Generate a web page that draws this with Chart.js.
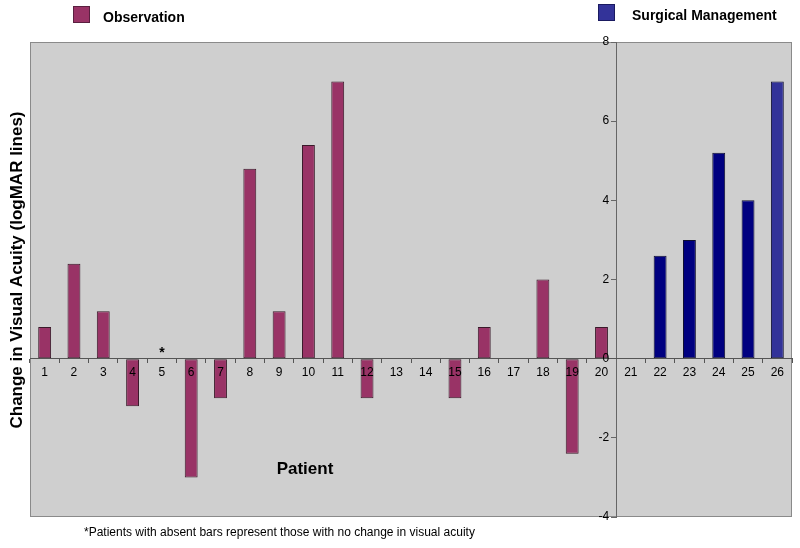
<!DOCTYPE html>
<html>
<head>
<meta charset="utf-8">
<script src="https://cdn.jsdelivr.net/npm/chart.js@4.4.0/dist/chart.umd.min.js"></script>
<style>
  html, body { margin: 0; padding: 0; background: #fff; }
  #wrap { width: 800px; height: 548px; }
</style>
</head>
<body>
<div id="wrap"><canvas id="chart" width="800" height="548"></canvas></div>
<script>
// data
var patients = ['1','2','3','4','5','6','7','8','9','10','11','12','13','14','15','16','17','18','19','20','21','22','23','24','25','26'];
var observation = [0.8, 2.4, 1.2, -1.2, 0, -3, -1, 4.8, 1.2, 5.4, 7, -1, 0, 0, -1, 0.8, 0, 2, -2.4, 0.8, null, null, null, null, null, null];
var surgical = [null, null, null, null, null, null, null, null, null, null, null, null, null, null, null, null, null, null, null, null, 0, 2.6, 3, 5.2, 4, 7];
var yTicks = [-4, -2, 0, 2, 4, 6, 8];

var maroon = '#993366';
var navy = '#000080';
var lightNavy = '#333399';
var fontFam = '"Liberation Sans", Arial, sans-serif';

// plot background, legend, titles, note
var decor = {
  id: 'decor',
  beforeDraw: function (chart) {
    var c = chart.ctx, a = chart.chartArea;
    c.save();
    c.fillStyle = '#cfcfcf';
    c.fillRect(a.left, a.top, a.right - a.left, a.bottom - a.top);
    c.strokeStyle = '#8a8a8a';
    c.lineWidth = 1;
    c.strokeRect(a.left + 0.5, a.top + 0.5, a.right - a.left - 1, a.bottom - a.top - 1);
    c.restore();
  },
  afterDraw: function (chart) {
    var c = chart.ctx;
    var x = chart.scales.x, y = chart.scales.y;
    c.save();
    // legend
    c.fillStyle = maroon;
    c.strokeStyle = '#5a2040';
    c.fillRect(73, 6, 17, 17);
    c.strokeRect(73.5, 6.5, 16, 16);
    c.fillStyle = lightNavy;
    c.strokeStyle = '#1a1a60';
    c.fillRect(598, 4, 17, 17);
    c.strokeRect(598.5, 4.5, 16, 16);
    c.fillStyle = '#000';
    c.font = 'bold 14px ' + fontFam;
    c.textBaseline = 'middle';
    c.textAlign = 'left';
    c.fillText('Observation', 103, 18);
    c.fillText('Surgical Management', 632, 16);
    // y tick labels, left of the axis
    var ax = x.getPixelForValue(19.5);
    c.font = '12px ' + fontFam;
    c.textAlign = 'right';
    yTicks.forEach(function (v) {
      c.fillText(String(v), ax - 7, y.getPixelForValue(v));
    });
    // axis titles
    c.font = 'bold 17px ' + fontFam;
    c.textAlign = 'center';
    c.fillText('Patient', 305, 469);
    c.save();
    c.translate(17, 270);
    c.rotate(-Math.PI / 2);
    c.fillText('Change in Visual Acuity (logMAR lines)', 0, 0);
    c.restore();
    // asterisk over patient 5
    c.font = 'bold 14px ' + fontFam;
    c.fillText('*', x.getPixelForValue(4), y.getPixelForValue(0) - 6);
    // footnote
    c.font = '12px ' + fontFam;
    c.textAlign = 'left';
    c.fillText('*Patients with absent bars represent those with no change in visual acuity', 84, 533);
    c.restore();
  }
};

var ctx = document.getElementById('chart').getContext('2d');
var myChart = new Chart(ctx, {
  type: 'bar',
  data: {
    labels: patients,
    datasets: [{
      label: 'Observation',
      data: observation,
      backgroundColor: maroon,
      borderColor: '#3a1a2a',
      borderWidth: 1,
      borderSkipped: false
    }, {
      label: 'Surgical Management',
      data: surgical,
      backgroundColor: function (c) { return c.dataIndex === 25 ? lightNavy : navy; },
      borderColor: '#101030',
      borderWidth: 1,
      borderSkipped: false
    }]
  },
  options: {
    responsive: false,
    animation: false,
    devicePixelRatio: 1,
    grouped: false,
    barPercentage: 1,
    categoryPercentage: 0.44,
    layout: { padding: { left: 30, right: 8, top: 42, bottom: 31 } },
    plugins: {
      legend: { display: false },
      tooltip: { enabled: false }
    },
    scales: {
      x: {
        position: { y: 0 },
        offset: true,
        grid: { drawOnChartArea: false, drawTicks: true, tickLength: 4, color: '#555', offset: true },
        border: { display: true, color: '#555', width: 1, z: 1 },
        ticks: { z: 1, color: '#000', padding: 3, maxRotation: 0, autoSkip: false, font: { family: fontFam, size: 12 } }
      },
      y: {
        position: { x: 19.5 },
        min: -4,
        max: 8,
        afterBuildTicks: function (scale) {
          scale.ticks = yTicks.map(function (v) { return { value: v }; });
        },
        grid: { drawOnChartArea: false, drawTicks: true, tickLength: 5, color: '#666' },
        border: { display: true, color: '#666', width: 1 },
        ticks: { display: false }
      }
    }
  },
  plugins: [decor]
});
</script>
</body>
</html>
